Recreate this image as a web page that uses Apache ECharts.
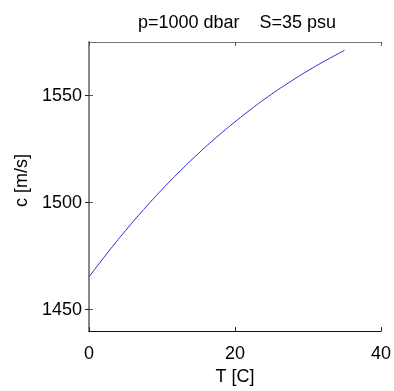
<!DOCTYPE html>
<html><head><meta charset="utf-8">
<script src="https://cdn.jsdelivr.net/npm/echarts@6/dist/echarts.min.js"></script>
<style>html,body{margin:0;padding:0;background:#fff}#c{width:394px;height:391px}</style>
</head><body><div id="c"></div>
<script>
var temps = [0, 2.5, 5, 7.5, 10, 12.5, 15, 17.5, 20, 22.5, 25, 27.5, 30, 32.5, 35];
var speeds = [1465.3, 1476.4, 1486.9, 1496.8, 1506.1, 1514.8, 1523.0, 1530.6, 1537.7, 1544.4, 1550.6, 1556.3, 1561.6, 1566.5, 1571.1];
var xTicks = [0, 20, 40];
var yTicks = [1450, 1500, 1550];
var titleText = 'p=1000 dbar    S=35 psu';
var xName = 'T [C]';
var yName = 'c [m/s]';

var chart = echarts.init(document.getElementById('c'), null, {renderer: 'canvas'});
var font = 'Liberation Sans, Arial, sans-serif';
var data = temps.map(function (t, i) { return [t, speeds[i]]; });
function fmt(v) { return String(v); }
chart.setOption({
  animation: false,
  title: {text: titleText, left: 232, top: 9, textAlign: 'center',
    textStyle: {fontFamily: font, fontSize: 18, fontWeight: 'normal', color: '#000'}},
  grid: {left: 89, top: 42, right: 12, bottom: 55, show: false},
  xAxis: [{
    type: 'value', min: 0, max: 40, position: 'bottom',
    axisLine: {show: true, lineStyle: {color: '#111', width: 1}},
    axisTick: {show: true, inside: true, length: 4, customValues: xTicks, lineStyle: {color: '#222'}},
    axisLabel: {fontFamily: font, fontSize: 18, color: '#000', margin: 14, customValues: xTicks, formatter: fmt},
    splitLine: {show: false},
    name: xName, nameLocation: 'middle', nameGap: 33,
    nameTextStyle: {fontFamily: font, fontSize: 18, color: '#000'}
  }, {
    type: 'value', min: 0, max: 40, position: 'top',
    axisLine: {show: true, lineStyle: {color: '#777', width: 1}},
    axisTick: {show: true, inside: true, length: 4, customValues: xTicks, lineStyle: {color: '#555'}},
    axisLabel: {show: false}, splitLine: {show: false}
  }],
  yAxis: [{
    type: 'value', min: 1440, max: 1575, position: 'left',
    axisLine: {show: true, lineStyle: {color: '#777', width: 1}},
    axisTick: {show: true, inside: true, length: 4, customValues: yTicks, lineStyle: {color: '#555'}},
    axisLabel: {fontFamily: font, fontSize: 18, color: '#000', margin: 7,
      customValues: yTicks, formatter: fmt},
    splitLine: {show: false},
    name: yName, nameLocation: 'middle', nameGap: 54, nameRotate: 90,
    nameTextStyle: {fontFamily: font, fontSize: 18, color: '#000', padding: [0, 0, 0, 12]}
  }, {
    type: 'value', min: 1440, max: 1575, position: 'right',
    axisLine: {show: true, lineStyle: {color: '#888', width: 2}},
    axisTick: {show: true, inside: true, length: 4, customValues: yTicks, lineStyle: {color: '#222'}},
    axisLabel: {show: false}, splitLine: {show: false}
  }],
  series: [{
    type: 'line', data: data, smooth: true, showSymbol: false,
    lineStyle: {color: '#2b2bd6', width: 1}
  }]
});
</script></body></html>
